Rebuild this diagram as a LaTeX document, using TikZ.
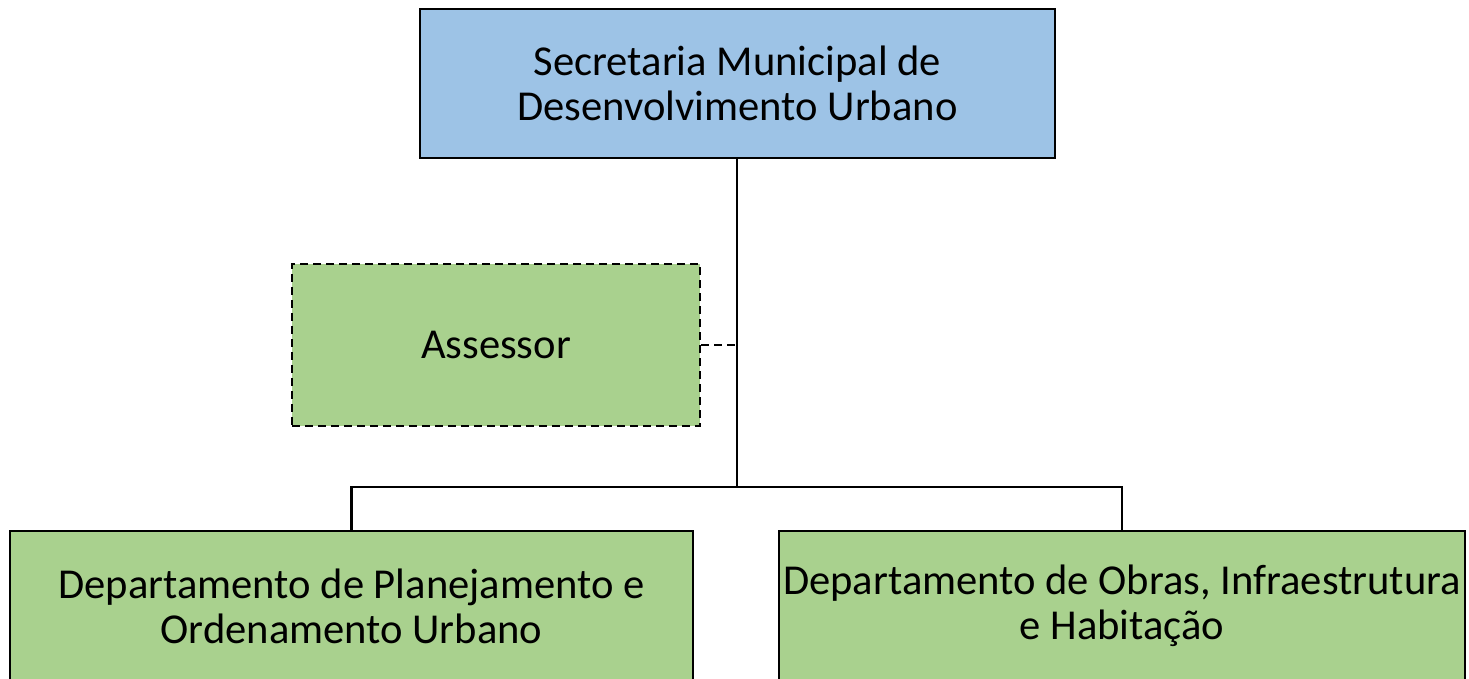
\documentclass[tikz,border=0pt]{standalone}
\usepackage{fontspec}
\setmainfont{Carlito}
\definecolor{boxblue}{HTML}{9DC3E6}
\definecolor{boxgreen}{HTML}{A9D18E}
\begin{document}
\begin{tikzpicture}[x=1pt,y=-1pt,
  orgbox/.style={draw=black,line width=2.6pt,align=center,inner sep=0pt,
    font=\fontsize{42.6}{45}\selectfont},
  dashline/.style={dash pattern=on 8pt off 5pt},
  link/.style={draw=black,line width=2.6pt}]
\useasboundingbox (0,0) rectangle (1469,678);
\clip (0,0) rectangle (1469,678);
\node[orgbox,fill=boxblue,minimum width=635pt,minimum height=149pt] (sec) at (737.5,83.5) {Secretaria Municipal de\\Desenvolvimento Urbano};
\node[orgbox,fill=boxgreen,dashline,minimum width=408pt,minimum height=162pt] (ass) at (496,345) {Assessor};
\node[orgbox,fill=boxgreen,minimum width=683pt,minimum height=150pt] (dpl) at (351.5,606) {Departamento de Planejamento e\\Ordenamento Urbano};
\node[orgbox,fill=boxgreen,minimum width=686pt,minimum height=150pt] (dob) at (1122,606) {Departamento de Obras, Infraestrutura\\e Habitação};
\coordinate (j) at (737,487);
\draw[link] (sec.south -| j) -- (j);
\draw[link] (j) -| (dpl.north);
\draw[link] (j) -| (dob.north);
\draw[link,dashline] (ass.east) -- (ass.east -| j);
\end{tikzpicture}
\end{document}
